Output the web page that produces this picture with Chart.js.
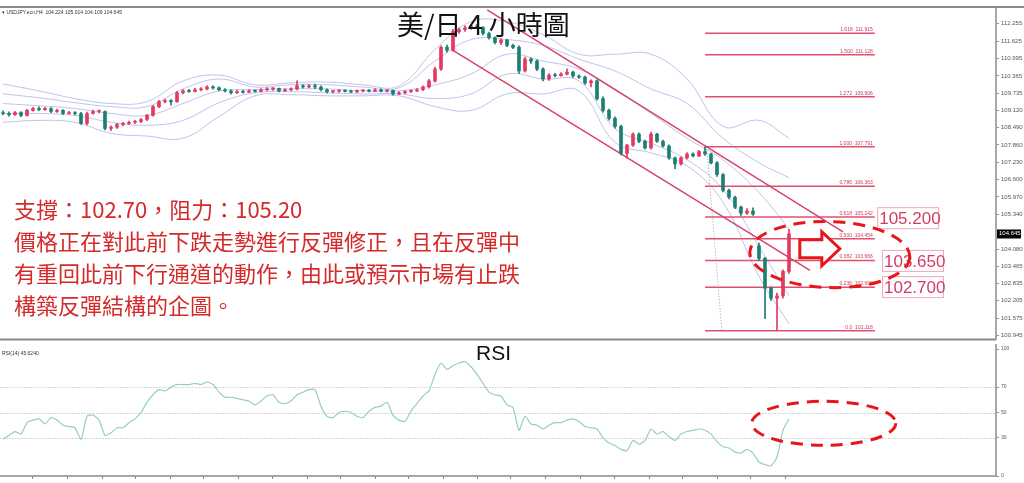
<!DOCTYPE html>
<html>
<head>
<meta charset="utf-8">
<script src="https://cdn.jsdelivr.net/npm/chart.js@4.4.0/dist/chart.umd.min.js"></script>
<style>
  body { margin: 0; background: #fff; width: 1024px; height: 483px; overflow: hidden; position: relative; font-family: "Noto Sans CJK TC", sans-serif; }
  #priceChart { position: absolute; left: 0; top: 0; }
  #rsiChart { position: absolute; left: 0; top: 344px; }
  .title { position: absolute; left: 397px; top: 4px; font-size: 27px; color: #111; white-space: nowrap; }
  .note { position: absolute; left: 14px; top: 192px; font-size: 22px; line-height: 32px; color: #d42a2a; white-space: nowrap; }
  .rsiTitle { position: absolute; left: 476px; top: 341px; font: 21px "Liberation Sans", Arial, sans-serif; color: #111; }
</style>
</head>
<body>
<canvas id="priceChart" width="1024" height="345"></canvas>
<canvas id="rsiChart" width="1024" height="139"></canvas>
<div class="title">美/日 4 小時圖</div>
<div class="note">支撐：102.70，阻力：105.20<br>價格正在對此前下跌走勢進行反彈修正，且在反彈中<br>有重回此前下行通道的動作，由此或預示市場有止跌<br>構築反彈結構的企圖。</div>
<div class="rsiTitle">RSI</div>
<script>
// USDJPY H4 蠟燭 (讀自圖片)
const opens = [109.03,109.00,108.96,109.03,108.93,109.11,109.18,109.14,109.18,109.07,
  109.11,109.00,109.03,109.00,108.64,109.00,109.07,109.07,108.46,108.50,
  108.60,108.64,108.68,108.71,108.78,108.93,109.25,109.43,109.46,109.43,
  109.75,109.82,109.80,109.86,109.89,109.96,109.93,109.86,109.82,109.75,
  109.79,109.77,109.82,109.80,109.86,109.89,109.91,109.82,109.86,109.89,
  110.00,109.96,110.00,109.96,109.86,109.79,109.81,109.83,109.80,109.78,
  109.82,109.84,109.81,109.86,109.82,109.84,109.71,109.75,109.79,109.82,
  109.86,109.96,110.18,110.61,111.40,111.30,111.97,112.04,112.11,112.18,
  112.12,111.90,111.75,111.58,111.66,111.47,111.40,110.54,110.97,110.90,
  110.61,110.25,110.39,110.37,110.43,110.50,110.36,110.32,110.11,110.18,
  109.54,109.11,108.82,108.53,107.55,107.85,108.25,107.99,107.75,108.25,
  107.99,107.82,107.39,107.17,107.39,107.53,107.46,107.62,107.53,107.21,
  106.78,106.21,105.96,105.60,105.38,105.46,104.20,103.74,102.66,102.30,
  102.38,103.27];
const highs = [109.10,109.06,109.08,109.07,109.15,109.22,109.24,109.22,109.21,109.16,
  109.14,109.08,109.07,109.04,109.05,109.12,109.13,109.10,108.55,108.64,
  108.68,108.72,108.75,108.82,108.97,109.29,109.48,109.52,109.50,109.80,
  109.87,109.88,109.91,109.94,110.01,110.00,109.97,109.90,109.86,109.84,
  109.84,109.87,109.86,109.90,109.94,109.93,109.92,109.90,109.93,110.18,
  110.05,110.05,110.07,110.00,109.89,109.84,109.86,109.87,109.85,109.86,
  109.86,109.87,109.90,109.89,109.86,109.85,109.79,109.83,109.86,109.90,
  110.00,110.24,110.68,111.45,111.48,112.05,112.10,112.18,112.23,112.23,
  112.15,111.95,111.78,111.72,111.70,111.52,111.45,111.05,111.02,110.95,
  110.66,110.45,110.46,110.48,110.62,110.54,110.40,110.36,110.22,110.22,
  109.60,109.16,108.88,108.58,107.88,108.30,108.30,108.03,108.32,108.28,
  108.03,107.86,107.42,107.43,107.58,107.57,107.66,107.79,107.56,107.25,
  106.82,106.26,106.00,105.64,105.55,105.58,104.30,103.78,102.70,102.48,
  103.33,104.80];
const lows = [108.95,108.90,108.93,108.88,108.90,109.08,109.10,109.11,109.03,109.04,
  108.96,108.97,108.95,108.60,108.58,108.97,109.02,108.40,108.38,108.46,
  108.55,108.60,108.63,108.67,108.74,108.90,109.21,109.38,109.30,109.40,
  109.71,109.76,109.78,109.82,109.85,109.88,109.82,109.78,109.70,109.72,
  109.74,109.75,109.77,109.78,109.82,109.84,109.78,109.79,109.82,109.85,
  109.92,109.93,109.90,109.82,109.74,109.74,109.76,109.78,109.75,109.76,
  109.78,109.78,109.79,109.78,109.77,109.66,109.68,109.72,109.75,109.79,
  109.83,109.92,110.14,110.56,111.22,111.26,111.90,111.98,112.05,112.08,
  111.85,111.70,111.52,111.50,111.42,111.35,110.45,110.50,110.82,110.55,
  110.18,110.20,110.33,110.35,110.40,110.31,110.27,110.05,109.96,109.48,
  109.05,108.76,108.47,107.50,107.38,107.80,107.94,107.70,107.70,107.95,
  107.78,107.33,107.00,107.12,107.35,107.42,107.43,107.48,107.17,106.72,
  106.15,105.90,105.55,105.30,105.34,105.30,103.68,101.55,102.22,101.12,
  102.30,103.20];
const closes = [109.00,108.96,109.03,108.93,109.11,109.18,109.14,109.18,109.07,109.11,
  109.00,109.03,109.00,108.64,109.00,109.07,109.07,108.46,108.50,108.60,
  108.64,108.68,108.71,108.78,108.93,109.25,109.43,109.46,109.43,109.75,
  109.82,109.80,109.86,109.89,109.96,109.93,109.86,109.82,109.75,109.79,
  109.77,109.82,109.80,109.86,109.89,109.91,109.82,109.86,109.89,110.00,
  109.96,110.00,109.96,109.86,109.79,109.81,109.83,109.80,109.78,109.82,
  109.84,109.81,109.86,109.82,109.84,109.71,109.75,109.79,109.82,109.86,
  109.96,110.18,110.61,111.40,111.30,111.97,112.04,112.11,112.18,112.12,
  111.90,111.75,111.58,111.66,111.47,111.40,110.54,110.97,110.90,110.61,
  110.25,110.39,110.37,110.43,110.50,110.36,110.32,110.11,110.18,109.54,
  109.11,108.82,108.53,107.55,107.85,108.25,107.99,107.75,108.25,107.99,
  107.82,107.39,107.17,107.39,107.53,107.46,107.62,107.53,107.21,106.78,
  106.21,105.96,105.60,105.38,105.46,105.35,103.74,102.66,102.30,102.38,
  103.27,104.63];

// 布林通道 (每 6 根取一點)
const bandIdx = [0,6,12,18,24,30,36,42,48,54,60,66,72,78,84,90,96,102,108,114,120,126,131];
const bandU2 = [110.07,109.82,109.54,109.36,109.43,110.18,110.39,110.04,110.11,110.14,110.04,110.00,111.32,112.33,112.33,111.86,111.15,111.15,111.15,110.25,108.53,108.75,108.10];
const bandU1 = [109.71,109.57,109.39,109.25,109.25,109.89,110.25,109.96,110.04,110.04,109.96,109.93,110.90,111.68,111.68,111.47,110.97,110.54,109.89,109.36,108.10,107.21,106.67];
const bandMid = [109.36,109.28,109.18,109.00,108.93,109.36,109.82,109.86,109.89,109.89,109.82,109.82,110.04,110.43,111.15,110.90,110.61,109.89,109.00,108.10,107.32,106.13,104.81];
const bandL1 = [109.00,109.00,108.93,108.68,108.57,108.75,109.39,109.75,109.79,109.75,109.71,109.71,109.54,109.71,110.43,110.25,110.18,108.45,107.92,107.32,106.24,104.17,102.38];
const bandL2 = [108.68,108.75,108.68,108.28,108.18,108.10,108.89,109.64,109.68,109.64,109.64,109.64,109.25,109.11,109.71,109.71,109.82,107.95,107.57,107.10,105.78,103.09,101.37];

// 下行通道
const channelUpper = [{x: 80.7, y: 112.76}, {x: 140.0, y: 104.70}];
const channelLower = [{x: 74.8, y: 111.32}, {x: 134.5, y: 103.31}];
const fibAnchor = [{x: 117.3, y: 107.79}, {x: 119.8, y: 101.12}];

// 斐波那契
const fibLevels = [0, 0.236, 0.382, 0.5, 0.618, 0.786, 1, 1.272, 1.5, 1.618];
const fibPrices = [101.118, 102.692, 103.666, 104.454, 105.242, 106.363, 107.791, 109.606, 111.128, 111.915];
const fibStart = 117.0, fibEnd = 145.3;

const keyLevels = [105.200, 103.650, 102.700];
const keyBoxIdx = [145.7, 146.5, 146.5];
const lastPrice = 104.645;

const yTicks = [112.255, 111.625, 110.995, 110.365, 109.735, 109.120, 108.490, 107.860, 107.230, 106.600, 105.970, 105.340, 104.080, 103.465, 102.835, 102.205, 101.575, 100.945];

// RSI(14)
const rsiValues = [29,32,35,33,42,44,45,41,46,44,
  40,39,38,29,47,48,44,32,34,38,
  38,42,45,50,58,64,68,67,70,72,
  72,72,73,72,74,72,66,62,62,61,
  60,59,56,59,63,64,58,57,59,64,
  66,68,68,55,47,46,50,51,50,47,
  46,51,54,55,58,48,44,43,51,57,
  63,67,80,89,84,87,89,90,86,80,
  73,66,64,63,56,54,36,47,41,40,
  37,40,42,42,44,45,43,39,38,37,
  30,26,24,21,20,28,25,28,37,33,
  35,31,28,33,35,36,37,36,33,27,
  23,22,19,18,21,18,11,9,8,15,
  36,45];
const rsiTicks = [0, 30, 50, 70, 100];
const rsiLevels = [30, 50, 70];
const timeTicks = [4.8,10.7,16.5,22.0,27.8,33.3,39.2,44.8,50.7,56.2,62.0,67.5,73.3,79.0,84.5,90.3,96.2,101.8,107.7,113.2,119.0,124.5,130.3];

const upColor = '#e23a62';
const downColor = '#1c7f74';
const bandColor = 'rgba(150,155,225,0.6)';
const fibColor = '#e0506e';

function candleColor(ctx) {
  const i = ctx.dataIndex;
  return closes[i] >= opens[i] ? upColor : downColor;
}

function bandSet(values) {
  return {
    type: 'line',
    data: bandIdx.map((b, k) => ({x: b, y: values[k]})),
    borderColor: bandColor,
    borderWidth: 1,
    pointRadius: 0,
    tension: 0.4,
    order: 6
  };
}

const fibSets = fibPrices.map(p => ({
  type: 'line',
  data: [{x: fibStart, y: p}, {x: fibEnd, y: p}],
  borderColor: fibColor,
  borderWidth: 1.5,
  pointRadius: 0,
  order: 3
}));

const priceDecor = {
  id: 'priceDecor',
  afterDatasetsDraw(chart) {
    const {ctx, chartArea: a, scales: {x, y}} = chart;
    ctx.save();

    // 斐波那契標籤
    ctx.font = '5px "Liberation Sans"';
    ctx.fillStyle = '#d03858';
    ctx.textAlign = 'right';
    fibLevels.forEach((lv, i) => {
      const txt = (lv === 0 ? '0.0' : lv.toFixed(3)) + '  ' + fibPrices[i].toFixed(3);
      ctx.fillText(txt, x.getPixelForValue(fibEnd) - 2, y.getPixelForValue(fibPrices[i]) - 2);
    });

    // 價位框
    keyLevels.forEach((v, i) => {
      const cy = y.getPixelForValue(v);
      const lx = x.getPixelForValue(keyBoxIdx[i]);
      ctx.strokeStyle = '#f2a6bc';
      ctx.lineWidth = 1;
      ctx.strokeRect(lx + 0.5, cy - 10.5, 61, 21);
      ctx.font = '17px "Liberation Sans"';
      ctx.fillStyle = '#d23c64';
      ctx.textAlign = 'left';
      ctx.fillText(v.toFixed(3), lx + 2, cy + 6);
    });

    // 紅色虛線橢圓
    ctx.strokeStyle = '#e8151b';
    ctx.lineWidth = 3;
    ctx.setLineDash([12, 8]);
    ctx.beginPath();
    ctx.ellipse(x.getPixelForValue(137.8), y.getPixelForValue(103.88), 80, 33, 0.03, 0, Math.PI * 2);
    ctx.stroke();
    ctx.setLineDash([]);

    // 箭頭
    const ax = x.getPixelForValue(132.8), ay = y.getPixelForValue(104.09);
    ctx.beginPath();
    ctx.moveTo(ax, ay - 9);
    ctx.lineTo(ax + 22, ay - 9);
    ctx.lineTo(ax + 22, ay - 17);
    ctx.lineTo(ax + 40, ay);
    ctx.lineTo(ax + 22, ay + 17);
    ctx.lineTo(ax + 22, ay + 9);
    ctx.lineTo(ax, ay + 9);
    ctx.closePath();
    ctx.fillStyle = '#fff';
    ctx.fill();
    ctx.lineWidth = 3;
    ctx.strokeStyle = '#e8151b';
    ctx.stroke();

    // 邊框
    ctx.strokeStyle = '#8a8a8a';
    ctx.lineWidth = 2;
    ctx.beginPath();
    ctx.moveTo(0, a.top);
    ctx.lineTo(chart.width, a.top);
    ctx.moveTo(0, a.bottom);
    ctx.lineTo(a.right, a.bottom);
    ctx.stroke();
    ctx.lineWidth = 1.5;
    ctx.beginPath();
    ctx.moveTo(a.right, a.top);
    ctx.lineTo(a.right, a.bottom);
    ctx.stroke();

    // 現價
    const py = y.getPixelForValue(lastPrice);
    ctx.fillStyle = '#000';
    ctx.fillRect(a.right + 1, py - 4, 24, 9);
    ctx.fillStyle = '#fff';
    ctx.font = '6px "Liberation Sans"';
    ctx.textAlign = 'left';
    ctx.fillText(lastPrice.toFixed(3), a.right + 3, py + 2);

    // 標頭
    ctx.fillStyle = '#333';
    ctx.font = '5px "Liberation Sans"';
    ctx.fillText('\u25BE USDJPY.ecn,H4  104.224 105.014 104.109 104.645', 2, a.top + 7);
    ctx.restore();
  }
};

new Chart(document.getElementById('priceChart'), {
  type: 'bar',
  data: {
    datasets: [
      {
        type: 'bar',
        data: closes.map((c, i) => ({x: i, y: [lows[i], highs[i]]})),
        backgroundColor: candleColor,
        barThickness: 1,
        grouped: false,
        order: 1
      },
      {
        type: 'bar',
        data: closes.map((c, i) => ({x: i, y: [opens[i], c]})),
        backgroundColor: candleColor,
        barThickness: 3,
        minBarLength: 1,
        grouped: false,
        order: 0
      },
      bandSet(bandU2), bandSet(bandU1), bandSet(bandMid), bandSet(bandL1), bandSet(bandL2),
      { type: 'line', data: channelUpper, borderColor: '#d8436a', borderWidth: 1.5, pointRadius: 0, order: 2 },
      { type: 'line', data: channelLower, borderColor: '#d8436a', borderWidth: 1.5, pointRadius: 0, order: 2 },
      { type: 'line', data: fibAnchor, borderColor: '#999', borderWidth: 1, borderDash: [1, 2], pointRadius: 0, order: 4 },
      ...fibSets
    ]
  },
  options: {
    responsive: false,
    animation: false,
    layout: { padding: { top: 7, bottom: 1, left: 0, right: 0 } },
    plugins: { legend: { display: false }, tooltip: { enabled: false } },
    scales: {
      x: { type: 'linear', min: -0.5, max: 165.5, offset: false, display: false },
      y: {
        position: 'right',
        min: 100.802,
        max: 112.863,
        afterFit(s) { s.width = 28; },
        afterBuildTicks(s) { s.ticks = yTicks.map(v => ({value: v})); },
        ticks: { font: { size: 6, family: 'Liberation Sans' }, color: '#555', padding: 2, callback: v => v.toFixed(3) },
        grid: { drawOnChartArea: false, tickLength: 3, color: '#999' },
        border: { display: false }
      }
    }
  },
  plugins: [priceDecor]
});

const rsiDecor = {
  id: 'rsiDecor',
  beforeDatasetsDraw(chart) {
    const {ctx, chartArea: a, scales: {y}} = chart;
    ctx.save();
    ctx.strokeStyle = '#d6d6d6';
    ctx.lineWidth = 1;
    ctx.setLineDash([2, 1]);
    rsiLevels.forEach(v => {
      const py = Math.round(y.getPixelForValue(v)) + 0.5;
      ctx.beginPath();
      ctx.moveTo(a.left, py);
      ctx.lineTo(a.right, py);
      ctx.stroke();
    });
    ctx.restore();
  },
  afterDatasetsDraw(chart) {
    const {ctx, chartArea: a, scales: {x, y}} = chart;
    ctx.save();
    ctx.strokeStyle = '#8a8a8a';
    ctx.lineWidth = 1.5;
    ctx.beginPath();
    ctx.moveTo(a.right, 0);
    ctx.lineTo(a.right, a.bottom);
    ctx.lineTo(0, a.bottom);
    ctx.stroke();
    ctx.lineWidth = 1;
    ctx.beginPath();
    timeTicks.forEach(t => {
      const px = Math.round(x.getPixelForValue(t)) + 0.5;
      ctx.moveTo(px, a.bottom);
      ctx.lineTo(px, a.bottom + 3);
    });
    ctx.stroke();

    ctx.fillStyle = '#333';
    ctx.font = '5px "Liberation Sans"';
    ctx.fillText('RSI(14) 45.6240', 2, a.top + 6);

    ctx.strokeStyle = '#e8151b';
    ctx.lineWidth = 3;
    ctx.setLineDash([12, 8]);
    ctx.beginPath();
    ctx.ellipse(x.getPixelForValue(136.8), y.getPixelForValue(41.5), 72, 22, 0, 0, Math.PI * 2);
    ctx.stroke();
    ctx.restore();
  }
};

new Chart(document.getElementById('rsiChart'), {
  type: 'line',
  data: {
    datasets: [{
      data: rsiValues.map((v, i) => ({x: i, y: v})),
      borderColor: '#95cdc7',
      borderWidth: 1.2,
      pointRadius: 0,
      tension: 0.2
    }]
  },
  options: {
    responsive: false,
    animation: false,
    layout: { padding: { top: 2, bottom: 7, left: 0, right: 0 } },
    plugins: { legend: { display: false }, tooltip: { enabled: false } },
    scales: {
      x: { type: 'linear', min: -0.5, max: 165.5, display: false },
      y: {
        position: 'right',
        min: 0,
        max: 100,
        afterFit(s) { s.width = 28; },
        afterBuildTicks(s) { s.ticks = rsiTicks.map(v => ({value: v})); },
        ticks: { font: { size: 5, family: 'Liberation Sans' }, color: '#555', padding: 2 },
        grid: { drawOnChartArea: false, tickLength: 3, color: '#999' },
        border: { display: false }
      }
    }
  },
  plugins: [rsiDecor]
});
</script>
</body>
</html>
